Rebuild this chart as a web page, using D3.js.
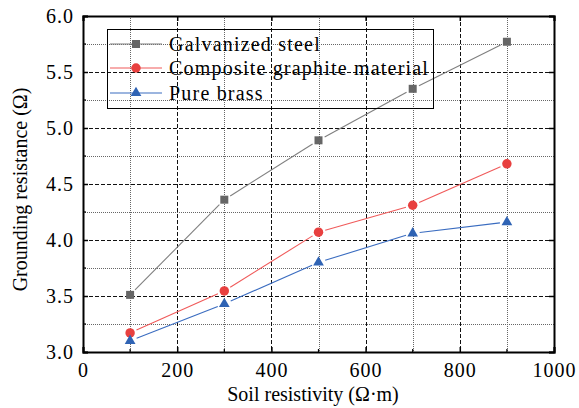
<!DOCTYPE html>
<html><head><meta charset="utf-8">
<script src="https://cdn.jsdelivr.net/npm/d3@7"></script>
<style>body{margin:0;background:#fff}svg{display:block}</style>
</head><body>
<svg id="c" width="579" height="408"></svg>
<script>
const resistivity = [100, 300, 500, 700, 900];
const galvanized = [3.51, 4.36, 4.89, 5.35, 5.77];
const composite = [3.17, 3.545, 4.07, 4.31, 4.68];
const brass = [3.10, 3.43, 3.80, 4.06, 4.16];
const seriesNames = ["Galvanized steel", "Composite graphite material", "Pure brass"];
const xTicks = [0, 200, 400, 600, 800, 1000];
const yTicks = [3.0, 3.5, 4.0, 4.5, 5.0, 5.5, 6.0];

const svg = d3.select("#c");
const L = 83, R = 554, T = 16, B = 352;
const x = d3.scaleLinear().domain([0, 1000]).range([L, R]);
const y = d3.scaleLinear().domain([3, 6]).range([B, T]);
const font = "Liberation Serif";

// minor grid
const xMinor = d3.range(100, 1000, 200);
const yMinor = d3.range(3.25, 6, 0.5);
svg.append("g").selectAll("line").data(xMinor).join("line")
  .attr("x1", d => Math.round(x(d)) + 0.5).attr("x2", d => Math.round(x(d)) + 0.5).attr("y1", T).attr("y2", B)
  .attr("stroke", "#666").attr("stroke-width", 1).attr("stroke-dasharray", "1,1");
svg.append("g").selectAll("line").data(yMinor).join("line")
  .attr("x1", L).attr("x2", R).attr("y1", d => Math.round(y(d)) + 0.5).attr("y2", d => Math.round(y(d)) + 0.5)
  .attr("stroke", "#666").attr("stroke-width", 1).attr("stroke-dasharray", "1,1");
// major grid
svg.append("g").selectAll("line").data(xTicks.slice(1, -1)).join("line")
  .attr("x1", d => Math.round(x(d)) + 0.5).attr("x2", d => Math.round(x(d)) + 0.5).attr("y1", T).attr("y2", B)
  .attr("stroke", "#111").attr("stroke-width", 1).attr("stroke-dasharray", "4,2");
svg.append("g").selectAll("line").data(yTicks.slice(1, -1)).join("line")
  .attr("x1", L).attr("x2", R).attr("y1", d => Math.round(y(d)) + 0.5).attr("y2", d => Math.round(y(d)) + 0.5)
  .attr("stroke", "#111").attr("stroke-width", 1).attr("stroke-dasharray", "4,2");

// axes
const xAxis = d3.axisBottom(x).tickValues(xTicks).tickFormat(d3.format("d")).tickSize(-5).tickPadding(11);
const yAxis = d3.axisLeft(y).tickValues(yTicks).tickFormat(d3.format(".1f")).tickSize(-5).tickPadding(9);
const gx = svg.append("g").attr("transform", `translate(0,${B})`).call(xAxis);
const gy = svg.append("g").attr("transform", `translate(${L},0)`).call(yAxis);
[gx, gy].forEach(g => {
  g.attr("font-family", font).attr("font-size", 20);
  g.select(".domain").attr("stroke", "#000").attr("stroke-width", 2);
  g.selectAll(".tick line").attr("stroke", "#000").attr("stroke-width", 1.5);
  g.selectAll(".tick text").attr("fill", "#000").attr("letter-spacing", 1);
});
// minor ticks
svg.append("g").selectAll("line").data(xMinor).join("line")
  .attr("x1", d => x(d)).attr("x2", d => x(d)).attr("y1", B).attr("y2", B - 3)
  .attr("stroke", "#000").attr("stroke-width", 1.2);
svg.append("g").selectAll("line").data(yMinor).join("line")
  .attr("x1", L).attr("x2", L + 3).attr("y1", d => y(d)).attr("y2", d => y(d))
  .attr("stroke", "#000").attr("stroke-width", 1.2);
// top and right axes
const gt = svg.append("g").attr("transform", `translate(0,${T})`)
  .call(d3.axisTop(x).tickValues(xTicks).tickFormat("").tickSize(-5));
const gr = svg.append("g").attr("transform", `translate(${R},0)`)
  .call(d3.axisRight(y).tickValues(yTicks).tickFormat("").tickSize(-5));
[gt, gr].forEach(g => {
  g.select(".domain").attr("stroke", "#000").attr("stroke-width", 2);
  g.selectAll(".tick line").attr("stroke", "#000").attr("stroke-width", 1.5);
});

// axis titles
svg.append("text").attr("x", 313).attr("y", 401).attr("text-anchor", "middle")
  .attr("font-family", font).attr("font-size", 20).text("Soil resistivity (Ω·m)");
svg.append("text").attr("transform", "translate(27,189.5) rotate(-90)")
  .attr("text-anchor", "middle").attr("font-family", font).attr("font-size", 20)
  .text("Grounding resistance (Ω)");

// series
const series = [
  {name: seriesNames[0], vals: galvanized, line: "#7f7f7f", fill: "#666666", shape: d3.symbolSquare, size: 64},
  {name: seriesNames[1], vals: composite, line: "#f05a5a", fill: "#e8403f", shape: d3.symbolCircle, size: 70},
  {name: seriesNames[2], vals: brass, line: "#3a6cc0", fill: "#2f63b4", shape: d3.symbolTriangle, size: 50}
];
const gap = 7;
series.forEach(s => {
  const pts = resistivity.map((r, i) => [x(r), y(s.vals[i])]);
  const g = svg.append("g");
  for (let i = 0; i < pts.length - 1; i++) {
    const [x1, y1] = pts[i], [x2, y2] = pts[i + 1];
    const dx = x2 - x1, dy = y2 - y1, len = Math.hypot(dx, dy);
    const ux = dx / len, uy = dy / len;
    g.append("line")
      .attr("x1", x1 + ux * gap).attr("y1", y1 + uy * gap)
      .attr("x2", x2 - ux * gap).attr("y2", y2 - uy * gap)
      .attr("stroke", s.line).attr("stroke-width", 1.1);
  }
  g.selectAll("path").data(pts).join("path")
    .attr("transform", d => `translate(${d[0]},${d[1]})`)
    .attr("d", d3.symbol().type(s.shape).size(s.size))
    .attr("fill", s.fill);
});

// legend
const lg = svg.append("g");
lg.append("rect").attr("x", 107.5).attr("y", 29.5).attr("width", 326).attr("height", 79)
  .attr("fill", "none").attr("stroke", "#000").attr("stroke-width", 1);
const legY = [44, 68, 93];
series.forEach((s, i) => {
  lg.append("line").attr("x1", 110).attr("x2", 162).attr("y1", legY[i]).attr("y2", legY[i])
    .attr("stroke", s.line).attr("stroke-width", 1.1);
  lg.append("path").attr("transform", `translate(136,${legY[i]})`)
    .attr("d", d3.symbol().type(s.shape).size(s.size)).attr("fill", s.fill);
  lg.append("text").attr("x", 169).attr("y", legY[i] + 6.5)
    .attr("font-family", font).attr("font-size", 20)
    .attr("letter-spacing", 1.2).text(s.name);
});
</script>
</body></html>
